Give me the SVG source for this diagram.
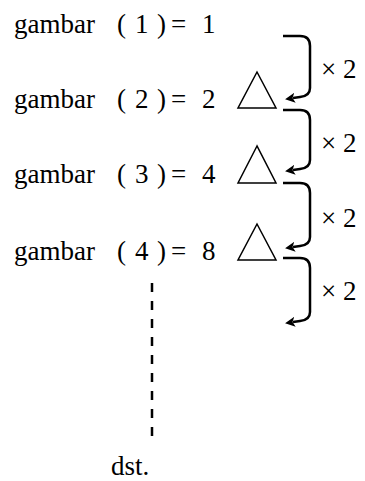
<svg xmlns="http://www.w3.org/2000/svg" width="365" height="481" viewBox="0 0 365 481">
<style>
.t{font-family:"Liberation Serif","Times New Roman",Times,"DejaVu Serif",serif;font-size:27px;fill:#000}
.tri{fill:#fff;stroke:#000;stroke-width:1.5;stroke-linejoin:miter}
.br{fill:none;stroke:#000;stroke-width:2.5;stroke-linecap:butt}
.dash{fill:none;stroke:#000;stroke-width:2.5;stroke-dasharray:9 9}
</style>
<defs>
<marker id="ah" viewBox="0 0 10 10" refX="2" refY="5" markerWidth="4" markerHeight="4" orient="auto" markerUnits="strokeWidth">
<path d="M0,0 L10,5 L0,10 L2.5,5 Z" fill="#000"/>
</marker>
</defs>
<rect width="365" height="481" fill="#fff"/>
<g id="g1"><text class="t" y="33"><tspan x="14">gambar</tspan><tspan x="117">(</tspan><tspan x="135">1</tspan><tspan x="157">)</tspan><tspan x="171">=</tspan><tspan x="202">1</tspan></text></g>
<g id="g2"><text class="t" y="108"><tspan x="14">gambar</tspan><tspan x="117">(</tspan><tspan x="135">2</tspan><tspan x="157">)</tspan><tspan x="171">=</tspan><tspan x="202">2</tspan></text>
<polygon class="tri" points="257,72 238,108 276,108"/></g>
<g id="g3"><text class="t" y="183"><tspan x="14">gambar</tspan><tspan x="117">(</tspan><tspan x="135">3</tspan><tspan x="157">)</tspan><tspan x="171">=</tspan><tspan x="202">4</tspan></text>
<polygon class="tri" points="257,146 238,183 276,183"/></g>
<g id="g4"><text class="t" y="260"><tspan x="14">gambar</tspan><tspan x="117">(</tspan><tspan x="135">4</tspan><tspan x="157">)</tspan><tspan x="171">=</tspan><tspan x="202">8</tspan></text>
<polygon class="tri" points="257,224 238,260 276,260"/></g>
<g id="dst"><text class="t" x="111" y="475">dst.</text></g>
<g id="connectors">
<path class="br" d="M283,36 H300 Q310,36 310,46 V88 Q310,96 300,97 L293,98" marker-end="url(#ah)"/>
<path class="br" d="M283,110 H300 Q310,110 310,120 V160 Q310,168 300,169 L293,170" marker-end="url(#ah)"/>
<path class="br" d="M283,183 H300 Q310,183 310,193 V237 Q310,245 300,246 L293,247" marker-end="url(#ah)"/>
<path class="br" d="M283,258 H300 Q310,258 310,268 V312 Q310,320 300,321 L293,322" marker-end="url(#ah)"/>
<line class="dash" x1="152" y1="283" x2="152" y2="441"/>
</g>
<g id="labels">
<text class="t" x="321" y="78">× 2</text>
<text class="t" x="321" y="152">× 2</text>
<text class="t" x="321" y="227">× 2</text>
<text class="t" x="321" y="300">× 2</text>
</g>
</svg>
